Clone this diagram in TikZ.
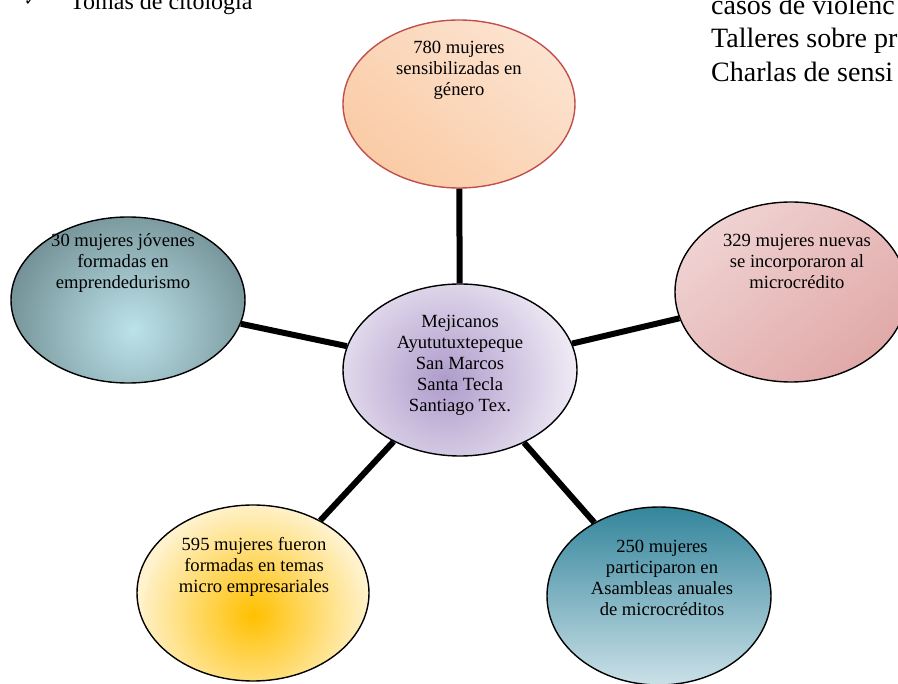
\documentclass[tikz,border=0pt]{standalone}
\usepackage{fontspec}
\setmainfont{Liberation Serif}
\newfontfamily\symfont{DejaVu Sans}
\usetikzlibrary{shapes.geometric}
\definecolor{orgA}{HTML}{F9BF8F}
\definecolor{orgB}{HTML}{FDEFE6}
\definecolor{orgLine}{HTML}{C0504D}
\definecolor{pnkA}{HTML}{F7E6E6}
\definecolor{pnkB}{HTML}{D99594}
\definecolor{tealOut}{HTML}{5C777B}
\definecolor{tealIn}{HTML}{BCE3EA}
\definecolor{purOut}{HTML}{F1EDF6}
\definecolor{purIn}{HTML}{AE9BCB}
\definecolor{yelOut}{HTML}{FFF2CC}
\definecolor{yelIn}{HTML}{FFC000}
\definecolor{bluTop}{HTML}{2F8299}
\definecolor{bluBot}{HTML}{DCEBF0}
\begin{document}
\begin{tikzpicture}[x=1pt,y=-1pt,
  ell/.style={shape=ellipse, draw=black, line width=1.4pt, inner sep=0pt},
  lbl/.style={align=center, font=\fontsize{18.6}{21}\selectfont, inner sep=0pt},
  hdr/.style={anchor=base west, font=\fontsize{28}{32}\selectfont, inner sep=0pt},
  link/.style={line width=6pt, draw=black}]
\useasboundingbox (0,0) rectangle (898,684);

% header texts
\node[anchor=base west, inner sep=0pt, font=\symfont\fontsize{15}{18}\selectfont] (chk) at (24,6) {✓};
\node[anchor=base west, inner sep=0pt, font=\fontsize{24}{28}\selectfont] (h0) at (70,10) {Tomas de citología};
\node[hdr] (h1) at (711,15) {casos de violenc};
\node[hdr] (h2) at (711,48) {Talleres sobre pr};
\node[hdr] (h3) at (711,82) {Charlas de sensi};

% ellipses
\node[ell, draw=orgLine, minimum width=232pt, minimum height=168pt, fill=orgB,
  path picture={\shade[top color=orgB, bottom color=orgA, shading angle=-40]
   ([xshift=-200pt,yshift=-200pt]path picture bounding box.center) rectangle
   ([xshift=200pt,yshift=200pt]path picture bounding box.center);}] (top) at (459,104) {};
\node[ell, minimum width=232pt, minimum height=180pt, fill=pnkA,
  path picture={\shade[top color=pnkA, bottom color=pnkB, shading angle=40]
   ([xshift=-200pt,yshift=-200pt]path picture bounding box.center) rectangle
   ([xshift=200pt,yshift=200pt]path picture bounding box.center);}] (right) at (791,292) {};
\node[ell, minimum width=234pt, minimum height=166pt, fill=tealOut,
  path picture={\shade[inner color=tealIn, outer color=tealOut]
   ([xshift=5pt,yshift=-30pt]path picture bounding box.center) circle (170pt);}] (left) at (128,300) {};
\node[ell, minimum width=234pt, minimum height=172pt, fill=purOut,
  path picture={\shade[inner color=purIn, outer color=purOut]
   ([xshift=-15pt,yshift=-10pt]path picture bounding box.center) circle (135pt);}] (ctr) at (460,370) {};
\node[ell, minimum width=232pt, minimum height=176pt, fill=yelOut,
  path picture={\shade[inner color=yelIn, outer color=yelOut]
   ([xshift=2pt,yshift=-22pt]path picture bounding box.center) circle (112pt);}] (bl) at (253,593) {};
\node[ell, minimum width=224pt, minimum height=178pt, fill=bluBot,
  path picture={\shade[top color=bluTop, bottom color=bluBot]
   ([xshift=-130pt,yshift=-110pt]path picture bounding box.center) rectangle
   ([xshift=130pt,yshift=95pt]path picture bounding box.center);}] (br) at (659,596) {};

% connectors
\draw[link] (ctr) -- (top);
\draw[link] (ctr) -- (right);
\draw[link] (ctr) -- (left);
\draw[link] (ctr) -- (bl);
\draw[link] (ctr) -- (br);

% labels
\node[lbl] (ttop) at (459,70) {780 mujeres\\sensibilizadas en\\género};
\node[lbl] (tright) at (797,261) {329 mujeres nuevas\\se incorporaron al\\microcrédito};
\node[lbl] (tleft) at (123,263) {30 mujeres jóvenes\\formadas en\\emprendedurismo};
\node[lbl] (tctr) at (460,365.5) {Mejicanos\\Ayututuxtepeque\\San Marcos\\Santa Tecla\\Santiago Tex.};
\node[lbl] (tbl) at (254,567) {595 mujeres fueron\\formadas en temas\\micro empresariales};
\node[lbl] (tbr) at (662,577.5) {250 mujeres\\participaron en\\Asambleas anuales\\de microcréditos};
\end{tikzpicture}
\end{document}
